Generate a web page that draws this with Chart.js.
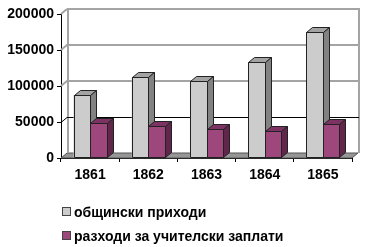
<!DOCTYPE html>
<html>
<head>
<meta charset="utf-8">
<script src="https://cdn.jsdelivr.net/npm/chart.js@4"></script>
<style>
  html, body { margin: 0; padding: 0; background: #fff; }
  #wrap { width: 368px; height: 247px; }
</style>
</head>
<body>
<div id="wrap"><canvas id="barChart" width="368" height="247"></canvas></div>
<script>
const years = ['1861', '1862', '1863', '1864', '1865'];
const income = [87500, 113000, 107000, 133500, 174500];
const salaries = [48500, 44500, 40000, 37500, 47000];
const yTicks = [0, 50000, 100000, 150000, 200000];
const seriesNames = ['общински приходи', 'разходи за учителски заплати'];

const DX = 6, DY = -5;
const FONT = 'bold 14px "Liberation Sans", Arial, sans-serif';

// faces for the fake 3d look: front, top, side
const greyFaces = ['#cccccc', '#a3a3a3', '#828282'];
const plumFaces = ['#9d477d', '#7c3262', '#62264d'];

function poly(ctx, pts, fill) {
    ctx.beginPath();
    ctx.moveTo(pts[0][0], pts[0][1]);
    for (let i = 1; i < pts.length; i++) ctx.lineTo(pts[i][0], pts[i][1]);
    ctx.closePath();
    ctx.fillStyle = fill;
    ctx.fill();
    ctx.stroke();
}

const walls = {
    id: 'walls',
    beforeDatasetsDraw(chart) {
        const ctx = chart.ctx;
        const a = chart.chartArea;
        const y = chart.scales.y;
        ctx.save();
        ctx.lineWidth = 1;
        // floor
        ctx.strokeStyle = '#555';
        poly(ctx, [[a.left, a.bottom], [a.right, a.bottom], [a.right + DX, a.bottom + DY], [a.left + DX, a.bottom + DY]], '#969696');
        // back wall outline, thick grey like the original
        ctx.lineWidth = 2;
        ctx.strokeStyle = '#a4a4a4';
        ctx.beginPath();
        ctx.moveTo(a.left + DX + 1, a.bottom + DY);
        ctx.lineTo(a.left + DX + 1, a.top + DY);
        ctx.lineTo(a.right + DX + 1, a.top + DY);
        ctx.lineTo(a.right + DX + 1, a.bottom + DY);
        ctx.moveTo(a.left, a.top);
        ctx.lineTo(a.left + DX, a.top + DY);
        ctx.stroke();
        // gridlines on back wall and side wall
        for (const v of yTicks) {
            if (v === 0 || v === 200000) continue;
            const dark = v === 50000;
            const py = Math.round(y.getPixelForValue(v)) + (dark ? 0.5 : 0);
            ctx.lineWidth = dark ? 1 : 2;
            ctx.strokeStyle = dark ? '#000000' : '#a4a4a4';
            ctx.beginPath();
            ctx.moveTo(a.left, py);
            ctx.lineTo(a.left + DX, py + DY);
            ctx.lineTo(a.right + DX + 1, py + DY);
            ctx.stroke();
        }
        ctx.restore();
    },
    afterDatasetsDraw(chart) {
        const ctx = chart.ctx;
        const sets = [greyFaces, plumFaces];
        ctx.save();
        ctx.lineWidth = 1;
        ctx.strokeStyle = '#222';
        for (let i = 0; i < years.length; i++) {
            for (let d = 0; d < 2; d++) {
                const bar = chart.getDatasetMeta(d).data[i];
                const c = sets[d];
                const l = Math.round(bar.x - bar.width / 2) + 0.5;
                const r = Math.round(bar.x + bar.width / 2) + 0.5;
                const t = Math.round(bar.y) + 0.5;
                const b = Math.round(bar.base) - 0.5;
                poly(ctx, [[l, t], [r, t], [r, b], [l, b]], c[0]);
                poly(ctx, [[l, t], [r, t], [r + DX, t + DY], [l + DX, t + DY]], c[1]);
                poly(ctx, [[r, t], [r + DX, t + DY], [r + DX, b + DY], [r, b]], c[2]);
            }
        }
        ctx.restore();
    },
    afterDraw(chart) {
        // legend, stacked and left aligned like the original
        const ctx = chart.ctx;
        const ds = chart.data.datasets;
        ctx.save();
        ctx.font = FONT;
        ctx.textBaseline = 'middle';
        ds.forEach((s, k) => {
            const cy = 212 + k * 24;
            ctx.fillStyle = s.backgroundColor;
            ctx.fillRect(62, cy - 5, 9, 9);
            ctx.strokeStyle = '#444';
            ctx.lineWidth = 1;
            ctx.strokeRect(62.5, cy - 4.5, 8, 8);
            ctx.fillStyle = '#000';
            ctx.fillText(s.label, 74, cy + 1);
        });
        ctx.restore();
    }
};

const ctx = document.getElementById('barChart').getContext('2d');
const myChart = new Chart(ctx, {
    type: 'bar',
    data: {
        labels: years,
        datasets: [{
            label: seriesNames[0],
            data: income,
            backgroundColor: greyFaces[0],
            borderWidth: 0
        }, {
            label: seriesNames[1],
            data: salaries,
            backgroundColor: plumFaces[0],
            borderWidth: 0
        }]
    },
    options: {
        responsive: false,
        animation: false,
        layout: { padding: { top: 14, right: 16, bottom: 0, left: 0 } },
        datasets: { bar: { categoryPercentage: 0.57, barPercentage: 1.0 } },
        plugins: { legend: { display: false }, tooltip: { enabled: false } },
        scales: {
            x: {
                afterFit(s) { s.height = 89; },
                grid: { drawOnChartArea: false, tickLength: 4, color: '#000', offset: true },
                border: { color: '#000' },
                ticks: { color: '#000', font: { family: '"Liberation Sans", Arial, sans-serif', size: 14, weight: 'bold' }, padding: 5 }
            },
            y: {
                min: 0,
                max: 200000,
                afterFit(s) { s.width = 61; },
                afterBuildTicks(s) { s.ticks = yTicks.map(v => ({ value: v })); },
                grid: { drawOnChartArea: false, tickLength: 4, color: '#000' },
                border: { color: '#000' },
                ticks: {
                    color: '#000',
                    font: { family: '"Liberation Sans", Arial, sans-serif', size: 14, weight: 'bold' },
                    padding: 3,
                    callback: v => String(v)
                }
            }
        }
    },
    plugins: [walls]
});
</script>
</body>
</html>
